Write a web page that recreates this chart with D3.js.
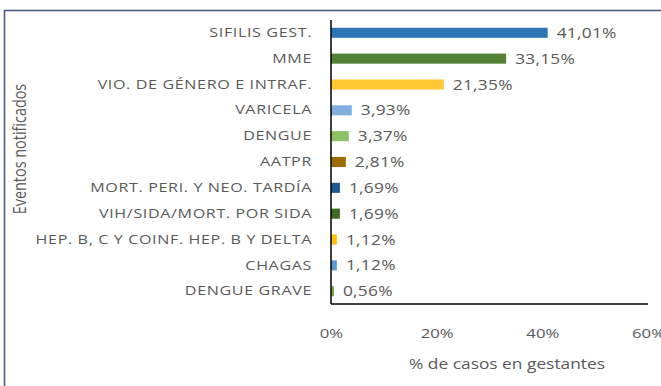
<!DOCTYPE html>
<html>
<head>
<meta charset="utf-8">
<script src="https://cdn.jsdelivr.net/npm/d3@7"></script>
<style>
  html, body { margin: 0; padding: 0; background: #fff; overflow: hidden; }
  svg { display: block; }
  text { font-family: "Open Sans", "Noto Sans", sans-serif; fill: #595959; }
</style>
</head>
<body>
<svg id="chart" width="661" height="386"></svg>
<script>
// Eventos notificados en gestantes (% de casos)
const categories = [
  "SIFILIS GEST.",
  "MME",
  "VIO. DE GÉNERO E INTRAF.",
  "VARICELA",
  "DENGUE",
  "AATPR",
  "MORT. PERI. Y NEO. TARDÍA",
  "VIH/SIDA/MORT. POR SIDA",
  "HEP. B, C Y COINF. HEP. B Y DELTA",
  "CHAGAS",
  "DENGUE GRAVE"
];
const values = [41.01, 33.15, 21.35, 3.93, 3.37, 2.81, 1.69, 1.69, 1.12, 1.12, 0.56];
const barColors = [
  "#2E75B6", "#548235", "#FFC832", "#7FB0E0", "#8DC166", "#9C6C00",
  "#1F5A91", "#3D6B26", "#FFC000", "#5B9BD5", "#70AD47"
];
const xTicks = [0, 20, 40, 60];
const xTitle = "% de casos en gestantes";
const yTitle = "Eventos notificados";

// horizontal widening applied to all lettering
const SX = 1.24;

const svg = d3.select("#chart");

// outer chart frame (continues past the right and bottom edges)
svg.append("rect")
  .attr("x", 4.5).attr("y", 10.5)
  .attr("width", 700).attr("height", 420)
  .attr("fill", "none")
  .attr("stroke", "#4A5A82")
  .attr("stroke-width", 1.6);

const plot = { left: 331, right: 648, top: 20, bottom: 304 };

const x = d3.scaleLinear().domain([0, 60]).range([plot.left, plot.right]);
const y = d3.scaleBand().domain(categories).range([plot.top, plot.bottom]).paddingInner(0.61).paddingOuter(0.3);

const esLocale = d3.formatLocale({ decimal: ",", thousands: ".", grouping: [3], currency: ["", "€"] });
const fmt = esLocale.format(".2f");

// places text at (px, py) in its parent, widened horizontally by SX
function placeWide(sel, px, py) {
  sel.attr("x", null).attr("y", null)
    .attr("transform", (d, i) => {
      const tx = typeof px === "function" ? px(d, i) : px;
      const ty = typeof py === "function" ? py(d, i) : py;
      return `translate(${tx},${ty}) scale(${SX},1)`;
    });
}

// bars
svg.append("g").selectAll("rect")
  .data(values)
  .join("rect")
  .attr("x", x(0))
  .attr("y", (d, i) => y(categories[i]))
  .attr("width", d => x(d) - x(0))
  .attr("height", y.bandwidth())
  .attr("fill", (d, i) => barColors[i]);

// value labels
svg.append("g").selectAll("text")
  .data(values)
  .join("text")
  .attr("dy", "0.36em")
  .attr("font-size", 14)
  .attr("letter-spacing", 0.2)
  .text(d => fmt(d) + "%")
  .call(placeWide, d => x(d) + 9, (d, i) => y(categories[i]) + y.bandwidth() / 2);

// category axis
const yAxis = svg.append("g")
  .attr("transform", `translate(${plot.left},0)`)
  .call(d3.axisLeft(y).tickSize(0).tickPadding(19));
yAxis.select(".domain").attr("stroke", "#000").attr("stroke-width", 1.5)
  .attr("d", `M0,${plot.top}V${plot.bottom}`);
yAxis.selectAll(".tick text")
  .attr("font-size", 13)
  .attr("letter-spacing", 0.5)
  .style("font-family", "'Open Sans', sans-serif")
  .attr("fill", "#595959")
  .call(placeWide, -19, 0);

// value axis
const xAxis = svg.append("g")
  .attr("transform", `translate(0,${plot.bottom})`)
  .call(d3.axisBottom(x).tickValues(xTicks).tickSize(0).tickPadding(22).tickFormat(d => d + "%"));
xAxis.select(".domain").attr("stroke", "#000").attr("stroke-width", 1.5)
  .attr("d", `M${plot.left},0H${plot.right}`);
xAxis.selectAll(".tick text")
  .attr("font-size", 13.5)
  .attr("dy", "0.36em")
  .style("font-family", "'Open Sans', sans-serif")
  .attr("fill", "#595959")
  .call(placeWide, 0, 29);

// axis titles
svg.append("text")
  .attr("dy", "0.36em")
  .attr("text-anchor", "middle")
  .attr("font-size", 14)
  .text(xTitle)
  .call(placeWide, 507, 364);

svg.append("text")
  .attr("transform", `translate(20,149) scale(${SX},1) rotate(-90)`)
  .attr("dy", "0.36em")
  .attr("text-anchor", "middle")
  .attr("font-size", 14.4)
  .text(yTitle);
</script>
</body>
</html>
